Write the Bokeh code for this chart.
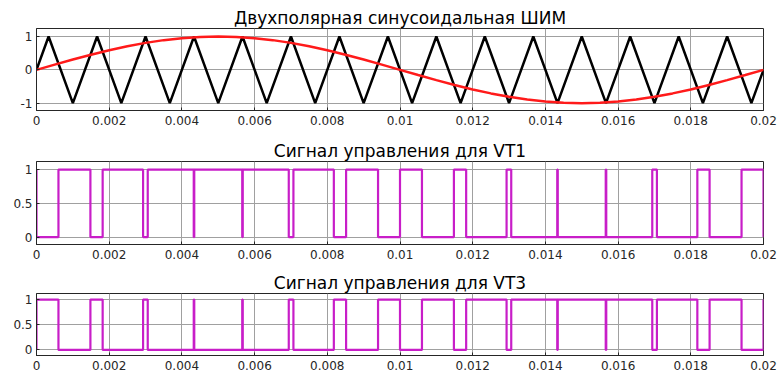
from bokeh.plotting import figure
from bokeh.layouts import column
from bokeh.models import FixedTicker, NumeralTickFormatter, Range1d
from bokeh.embed import file_html
from bokeh.resources import INLINE
import numpy as np

# ---- data -------------------------------------------------------------
# time axis ticks (s)
x_ticks = [0, 0.002, 0.004, 0.006, 0.008, 0.01, 0.012, 0.014, 0.016, 0.018, 0.02]

# triangular carrier: vertex times and values (750 Hz)
carrier_t = [0.0, 0.000333, 0.001, 0.001667, 0.002333, 0.003, 0.003667, 0.004333,
             0.005, 0.005667, 0.006333, 0.007, 0.007667, 0.008333, 0.009, 0.009667,
             0.010333, 0.011, 0.011667, 0.012333, 0.013, 0.013667, 0.014333, 0.015,
             0.015667, 0.016333, 0.017, 0.017667, 0.018333, 0.019, 0.019667, 0.02]
carrier_v = [0, 1, -1, 1, -1, 1, -1, 1, -1, 1, -1, 1, -1, 1, -1, 1,
             -1, 1, -1, 1, -1, 1, -1, 1, -1, 1, -1, 1, -1, 1, -1, 0]

# reference sine (50 Hz), sampled every 0.5 ms
ref_t = list(np.linspace(0.0, 0.02, 41))
ref_v = [0.0, 0.156, 0.309, 0.454, 0.588, 0.707, 0.809, 0.891, 0.951, 0.988,
         1.0, 0.988, 0.951, 0.891, 0.809, 0.707, 0.588, 0.454, 0.309, 0.156,
         0.0, -0.156, -0.309, -0.454, -0.588, -0.707, -0.809, -0.891, -0.951, -0.988,
         -1.0, -0.988, -0.951, -0.891, -0.809, -0.707, -0.588, -0.454, -0.309, -0.156, 0.0]

# VT1 gate signal: switching instants and level after each instant
vt1_t = [0.0, 0.0, 0.000604, 0.001483, 0.00182, 0.002932, 0.00306, 0.004326, 0.00434,
         0.00566, 0.005674, 0.00694, 0.007068, 0.00818, 0.008517, 0.009396, 0.01,
         0.010604, 0.011483, 0.01182, 0.012932, 0.01306, 0.014326, 0.01434, 0.01566,
         0.015674, 0.01694, 0.017068, 0.01818, 0.018517, 0.019396, 0.02]
vt1_level = [1, 0, 1, 0, 1, 0, 1, 0, 1,
             0, 1, 0, 1, 0, 1, 0, 1,
             0, 1, 0, 1, 0, 1, 0, 1,
             0, 1, 0, 1, 0, 1, 0]
# VT3 is driven complementary to VT1
vt3_level = [1 - v for v in vt1_level]

titles = ["Двухполярная синусоидальная ШИМ",
          "Сигнал управления для VT1",
          "Сигнал управления для VT3"]

# ---- styling ----------------------------------------------------------
FONT = "DejaVu Sans"
AX_COL = "#262626"
GRID_COL = "#a0a0a0"
MAGENTA = "#c81ec8"
W = 777


def make_fig(title, height, top, bottom, y_range, y_ticks):
    p = figure(width=W, height=height, output_backend="svg", toolbar_location=None,
               x_range=Range1d(0, 0.02), y_range=Range1d(*y_range),
               min_border_left=36, min_border_right=14,
               min_border_top=top, min_border_bottom=bottom)
    p.title.text = title
    p.title.align = "center"
    p.title.text_font = FONT
    p.title.text_font_size = "17px"
    p.title.text_font_style = "normal"
    p.title.text_color = "#000000"
    p.title.standoff = 2
    p.background_fill_color = "white"
    p.border_fill_color = "white"
    p.outline_line_color = AX_COL
    p.outline_line_width = 1

    p.xaxis.ticker = FixedTicker(ticks=x_ticks)
    p.xaxis.formatter = NumeralTickFormatter(format="0.[000]")
    p.yaxis.ticker = FixedTicker(ticks=y_ticks)
    p.yaxis.formatter = NumeralTickFormatter(format="0.[0]")
    for ax in (p.xaxis, p.yaxis):
        ax.axis_line_color = AX_COL
        ax.major_tick_line_color = AX_COL
        ax.major_tick_in = 3
        ax.major_tick_out = 0
        ax.minor_tick_line_color = None
        ax.major_label_text_font = FONT
        ax.major_label_text_font_size = "12px"
        ax.major_label_text_color = AX_COL
    p.xaxis.major_label_standoff = 5
    p.yaxis.major_label_standoff = 4

    p.xgrid.ticker = FixedTicker(ticks=x_ticks)
    p.ygrid.ticker = FixedTicker(ticks=y_ticks)
    p.grid.grid_line_color = GRID_COL
    p.grid.grid_line_width = 1
    return p


# top: carrier and reference
p1 = make_fig(titles[0], 134, 28, 24, (-1.22, 1.24), [-1, 0, 1])
p1.line(carrier_t, carrier_v, line_color="black", line_width=2.5)
p1.line(ref_t, ref_v, line_color="#ff1a1a", line_width=2.5)

# middle: VT1
p2 = make_fig(titles[1], 128, 27, 18, (-0.11, 1.12), [0, 0.5, 1])
p2.step(vt1_t, vt1_level, mode="after", line_color=MAGENTA, line_width=2.2)

# bottom: VT3
p3 = make_fig(titles[2], 112, 31, 19, (-0.11, 1.12), [0, 0.5, 1])
p3.step(vt1_t, vt3_level, mode="after", line_color=MAGENTA, line_width=2.2)

layout = column(p1, p2, p3, spacing=0)

open("out.html", "w").write(file_html(layout, INLINE))
